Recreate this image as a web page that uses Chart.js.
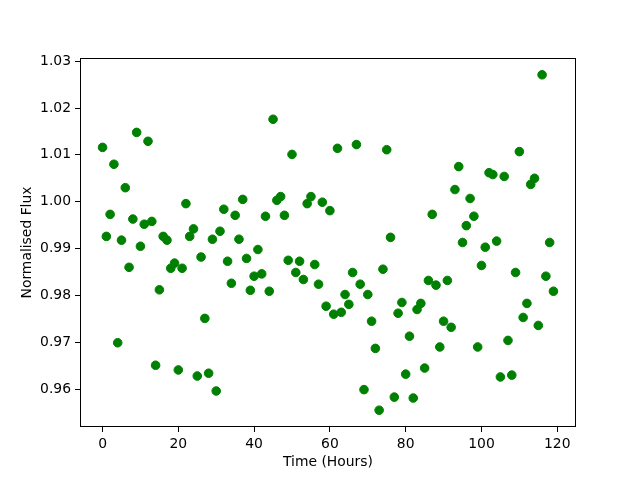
<!DOCTYPE html>
<html>
<head>
<meta charset="utf-8">
<script src="https://cdn.jsdelivr.net/npm/chart.js@4/dist/chart.umd.min.js"></script>
<style>
  body { margin: 0; background: #fff; }
  #wrap { width: 640px; height: 480px; }
</style>
</head>
<body>
<div id="wrap"><canvas id="fluxChart" width="640" height="480"></canvas></div>
<script>
// Observation times (hours)
const hours = [
  0, 1, 2, 3, 4, 5, 6, 7, 8, 9, 10, 11, 12, 13, 14, 15, 16, 17, 18, 19,
  20, 21, 22, 23, 24, 25, 26, 27, 28, 29, 30, 31, 32, 33, 34, 35, 36, 37, 38, 39,
  40, 41, 42, 43, 44, 45, 46, 47, 48, 49, 50, 51, 52, 53, 54, 55, 56, 57, 58, 59,
  60, 61, 62, 63, 64, 65, 66, 67, 68, 69, 70, 71, 72, 73, 74, 75, 76, 77, 78, 79,
  80, 81, 82, 83, 84, 85, 86, 87, 88, 89, 90, 91, 92, 93, 94, 95, 96, 97, 98, 99,
  100, 101, 102, 103, 104, 105, 106, 107, 108, 109, 110, 111, 112, 113, 114, 115, 116, 117, 118, 119
];

// Normalised flux
const flux = [
  1.0116, 0.9926, 0.9973, 1.0080, 0.9699, 0.9918, 1.0030, 0.9860, 0.9963, 1.0148,
  0.9905, 0.9952, 1.0129, 0.9958, 0.9651, 0.9812, 0.9926, 0.9918, 0.9858, 0.9869,
  0.9641, 0.9858, 0.9996, 0.9926, 0.9942, 0.9628, 0.9882, 0.9751, 0.9634, 0.9920,
  0.9596, 0.9937, 0.9984, 0.9873, 0.9826, 0.9971, 0.9920, 1.0005, 0.9879, 0.9811,
  0.9841, 0.9898, 0.9846, 0.9969, 0.9809, 1.0176, 1.0003, 1.0011, 0.9971, 0.9875,
  1.0101, 0.9849, 0.9873, 0.9834, 0.9996, 1.0011, 0.9866, 0.9824, 0.9999, 0.9777,
  0.9981, 0.9760, 1.0114, 0.9764, 0.9802, 0.9781, 0.9849, 1.0122, 0.9824, 0.9599,
  0.9802, 0.9745, 0.9687, 0.9555, 0.9856, 1.0111, 0.9924, 0.9583, 0.9762, 0.9785,
  0.9632, 0.9713, 0.9581, 0.9770, 0.9783, 0.9645, 0.9832, 0.9973, 0.9822, 0.9690,
  0.9745, 0.9832, 0.9732, 1.0026, 1.0075, 0.9913, 0.9949, 1.0007, 0.9969, 0.9690,
  0.9864, 0.9903, 1.0062, 1.0058, 0.9916, 0.9626, 1.0054, 0.9704, 0.9630, 0.9849,
  1.0107, 0.9753, 0.9783, 1.0037, 1.0050, 0.9736, 1.0271, 0.9841, 0.9913, 0.9809
];

// Tick labels
const xTicks = [0, 20, 40, 60, 80, 100, 120];
const yTicks = [0.96, 0.97, 0.98, 0.99, 1.00, 1.01, 1.02, 1.03];

// matplotlib-like 5% margins
const fMin = Math.min(...flux), fMax = Math.max(...flux);
const yPad = (fMax - fMin) * 0.05;
const hMin = Math.min(...hours), hMax = Math.max(...hours);
const xPad = (hMax - hMin) * 0.05;

const points = hours.map((h, i) => ({ x: h, y: flux[i] }));

const font = { family: "'DejaVu Sans', sans-serif", size: 13.9 };

// draws the full axes frame (all four spines)
const framePlugin = {
  id: 'frame',
  afterDraw(chart) {
    const a = chart.chartArea;
    const c = chart.ctx;
    c.save();
    c.strokeStyle = '#000';
    c.lineWidth = 1;
    c.strokeRect(Math.round(a.left) + 0.5, Math.round(a.top) + 0.5,
      Math.round(a.right - a.left) - 1, Math.round(a.bottom - a.top) - 1);
    c.restore();
  }
};

const ctx = document.getElementById('fluxChart').getContext('2d');
new Chart(ctx, {
  type: 'scatter',
  data: {
    datasets: [{
      data: points,
      backgroundColor: '#008000',
      borderColor: '#008000',
      borderWidth: 1,
      pointRadius: 4.3,
      pointHoverRadius: 4.3
    }]
  },
  options: {
    responsive: false,
    animation: false,
    devicePixelRatio: 1,
    layout: { padding: { top: 58, right: 64, left: 0, bottom: 0 } },
    plugins: {
      legend: { display: false },
      tooltip: { enabled: false }
    },
    scales: {
      x: {
        type: 'linear',
        min: hMin - xPad,
        max: hMax + xPad,
        afterBuildTicks: s => { s.ticks = xTicks.map(v => ({ value: v })); },
        afterFit: s => { s.height = 53; },
        grid: { drawOnChartArea: false, drawTicks: true, tickLength: 5, color: '#000' },
        border: { display: false },
        ticks: { color: '#000', font: font, padding: 4, maxRotation: 0, callback: v => String(v) },
        title: { display: true, text: 'Time (Hours)', color: '#000', font: font, padding: { top: 0, bottom: 9 } }
      },
      y: {
        type: 'linear',
        min: fMin - yPad,
        max: fMax + yPad,
        afterBuildTicks: s => { s.ticks = yTicks.map(v => ({ value: v })); },
        afterFit: s => { s.width = 80; },
        grid: { drawOnChartArea: false, drawTicks: true, tickLength: 5, color: '#000' },
        border: { display: false },
        ticks: { color: '#000', font: font, padding: 4, callback: v => v.toFixed(2) },
        title: { display: true, text: 'Normalised Flux', color: '#000', font: font, padding: { top: 19, bottom: 0 } }
      }
    }
  },
  plugins: [framePlugin]
});
</script>
</body>
</html>
